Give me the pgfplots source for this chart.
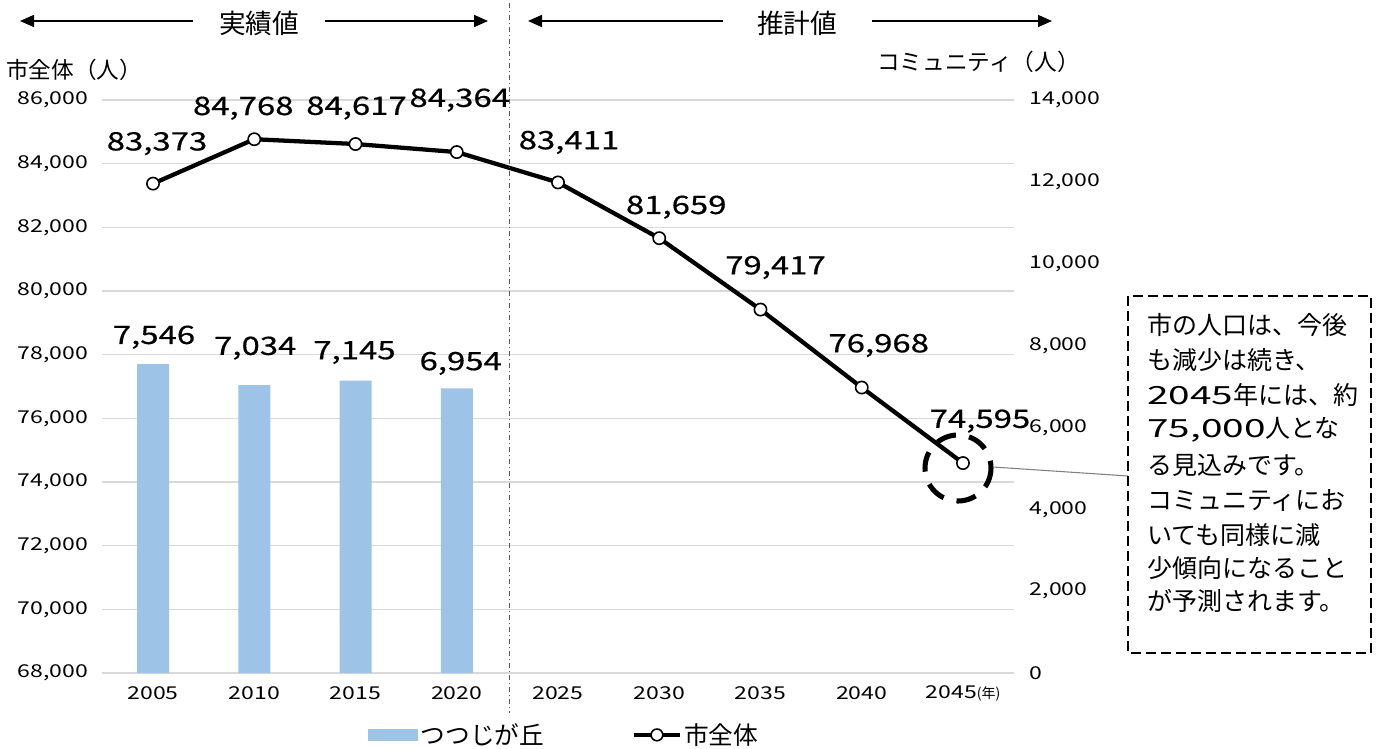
\documentclass[border=0pt]{standalone}
\usepackage{fontspec}
\usepackage{pgfplots}
\usepackage{pgfplotstable}
\pgfplotsset{compat=1.18}
\usetikzlibrary{arrows.meta}
\setmainfont{Noto Sans CJK JP}
\newfontfamily\numfont[FakeStretch=1.3]{Noto Sans CJK JP}
\newfontfamily\labfont[FakeStretch=1.3,FakeBold=0.5]{Noto Sans CJK JP}
\newfontfamily\boxnum[FakeStretch=1.55]{Noto Sans CJK JP}
\definecolor{barblue}{RGB}{157,195,230}
\definecolor{gridgray}{RGB}{217,217,217}

\pgfplotstableread{
x y dx dy lab
0 83373 4 -40 83,373
1 84768 -11 -31 84,768
2 84617 1 -36 84,617
3 84364 3 -52 84,364
4 83411 11 -40 83,411
5 81659 17 -31 81,659
6 79417 15 -42 79,417
7 76968 17 -42 76,968
8 74595 17 -42 74,595
}\citytable

\pgfplotstableread{
x y dx dy lab
0 7546 1 -27 7,546
1 7034 1 -37 7,034
2 7145 -1 -28 7,145
3 6954 4 -25 6,954
}\tsutsujitable

\pgfplotsset{
  common/.style={
    at={(76.8pt,-504.75pt)}, anchor=south west, scale only axis,
    width=683.4pt, height=429.75pt, xmin=-0.5, xmax=8.5,
    major tick length=0pt, clip=false, scaled y ticks=false,
    /pgf/number format/assume math mode=true,
    /pgf/number format/1000 sep={,},
    ticklabel style={font=\numfont\fontsize{13.3}{16}\selectfont, text=black},
  },
  lab/.style={
    nodes near coords, point meta=explicit symbolic,
    visualization depends on={\thisrow{dx} \as \dx},
    visualization depends on={\thisrow{dy} \as \dy},
    every node near coord/.append style={anchor=center, inner sep=0pt,
      xshift={0.75pt*\dx}, yshift={-0.75pt*\dy},
      font=\labfont\fontsize{19}{22}\selectfont, text=black},
  },
}

\begin{document}
\begin{tikzpicture}
\path[use as bounding box] (0,0) rectangle (1035.75pt,-561.75pt);

\begin{axis}[common,
  ymin=68000, ymax=86000,
  axis x line*=bottom, axis y line*=left,
  y axis line style={draw=none},
  x axis line style={draw=gridgray, line width=1.5pt},
  ytick={68000,70000,...,86000},
  ymajorgrids, grid style={gridgray, line width=1.1pt},
  xtick={0,...,8},
  xticklabels={2005,2010,2015,2020,2025,2030,2035,2040,{2045{\rmfamily\fontsize{10.5}{12}\selectfont(年)}}},
  yticklabel style={anchor=east, inner sep=0pt, xshift=-10.5pt},
  xticklabel style={anchor=center, yshift=-15pt},
]
\addplot[black, line width=3.2pt, mark=*, mark size=4.6pt,
  mark options={fill=white, draw=black, line width=1.2pt}, lab]
  table[x=x, y=y, meta=lab] {\citytable};
\end{axis}

\begin{axis}[common,
  ymin=0, ymax=14000,
  axis x line=none, axis y line*=right,
  y axis line style={draw=none},
  ytick={0,2000,...,14000},
  yticklabel style={anchor=west, inner sep=0pt, xshift=12pt},
  ybar, bar width=24pt,
  legend style={at={(0.2915,-0.108)}, anchor=west, draw=none, fill=none,
    legend columns=2, inner sep=0pt,
    font=\fontsize{18.5}{22}\selectfont,
    /tikz/every even column/.append style={column sep=64pt},
    nodes={inner sep=2pt}},
]
\addplot[fill=barblue, draw=none, lab,
  legend image code/.code={\fill[barblue] (0pt,-4.5pt) rectangle (37.5pt,4.5pt);}]
  table[x=x, y=y, meta=lab] {\tsutsujitable};
\addlegendentry{つつじが丘}
\addlegendimage{legend image code/.code={
  \draw[line width=3pt, black] (0pt,0pt) -- (34pt,0pt);
  \draw[fill=white, draw=black, line width=1.2pt] (17pt,0pt) circle (4.4pt);}}
\addlegendentry{市全体}
\end{axis}

\begin{scope}[x=0.75pt, y=-0.75pt]
  % top arrows
  \draw[line width=1.2pt, -{Triangle[length=10.5pt,width=9pt]}] (193,21) -- (20,21);
  \draw[line width=1.2pt, -{Triangle[length=10.5pt,width=9pt]}] (325,21) -- (488,21);
  \draw[line width=1.2pt, -{Triangle[length=10.5pt,width=9pt]}] (723,21) -- (528,21);
  \draw[line width=1.2pt, -{Triangle[length=10.5pt,width=9pt]}] (872,21) -- (1052,21);
  \node[font=\fontsize{20}{24}\selectfont, inner sep=0pt] at (259,23) {実績値};
  \node[font=\fontsize{20}{24}\selectfont, inner sep=0pt] at (797,23) {推計値};
  % axis titles
  \node[font=\fontsize{17}{20}\selectfont, anchor=west, inner sep=0pt] at (6,70) {市全体（人）};
  \node[font=\fontsize{17}{20}\selectfont, anchor=east, inner sep=0pt] at (1080,62) {コミュニティ（人）};
  % separator
  \draw[gray!70!black, line width=0.75pt, dash pattern=on 3.75pt off 2.25pt on 0.75pt off 2.25pt] (509,3) -- (509,713);
  % highlight circle and connector
  \draw[black, line width=3.8pt, dash pattern=on 15pt off 10pt] (958,468) circle (33);
  \draw[gray, line width=0.8pt] (993,467) -- (1128,476);
  % text box
  \draw[black, line width=1.3pt, dash pattern=on 7.5pt off 3.75pt] (1128,296) rectangle (1371,653);
  \begin{scope}[every node/.style={anchor=west, inner sep=0pt, font=\fontsize{18.75}{22}\selectfont}]
    \node at (1147,325) {市の人口は、今後};
    \node at (1147,360) {も減少は続き、};
    \node at (1147,395) {{\boxnum 2045}年には、約};
    \node at (1147,430) {{\boxnum 75,000}人とな};
    \node at (1147,465) {る見込みです。};
    \node at (1147,500) {コミュニティにお};
    \node at (1147,535) {いても同様に減};
    \node at (1147,568) {少傾向になること};
    \node at (1147,601) {が予測されます。};
  \end{scope}
\end{scope}
\end{tikzpicture}
\end{document}
